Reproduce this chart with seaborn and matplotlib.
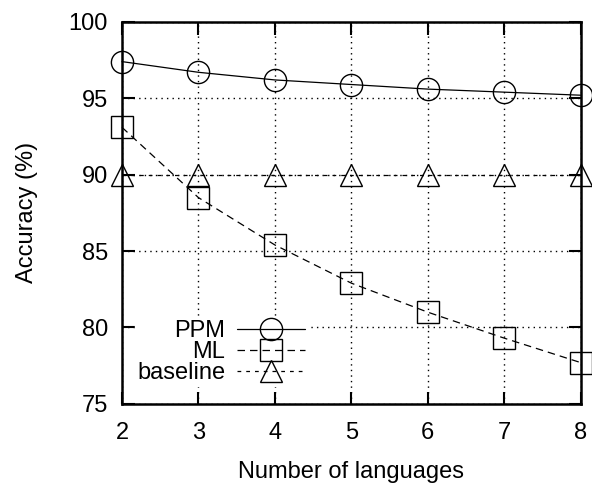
import matplotlib
matplotlib.use("Agg")
import matplotlib.pyplot as plt
import seaborn as sns
import pandas as pd

languages = [2, 3, 4, 5, 6, 7, 8]
ppm = [97.4, 96.7, 96.2, 95.9, 95.6, 95.4, 95.2]
ml = [93.1, 88.5, 85.4, 82.9, 81.0, 79.3, 77.7]
baseline = [90.0, 90.0, 90.0, 90.0, 90.0, 90.0, 90.0]
series_names = ["PPM", "ML", "baseline"]
x_ticks = [2, 3, 4, 5, 6, 7, 8]
y_ticks = [75, 80, 85, 90, 95, 100]

sns.set_style("ticks")
plt.rcParams['font.family'] = ['Liberation Sans', 'DejaVu Sans']
plt.rcParams['text.color'] = 'black'
plt.rcParams['axes.labelcolor'] = 'black'
plt.rcParams['xtick.color'] = 'black'
plt.rcParams['ytick.color'] = 'black'
plt.rcParams['axes.edgecolor'] = 'black'

df = pd.DataFrame({
    "n": languages * 3,
    "acc": ppm + ml + baseline,
    "method": [series_names[0]] * 7 + [series_names[1]] * 7 + [series_names[2]] * 7,
})

fig = plt.figure(figsize=(5.92, 4.86), dpi=100)
ax = fig.add_axes([0.206, 0.169, 0.775, 0.786])

ax.grid(True, linestyle=(0, (1, 3)), color="black", linewidth=1.0)
ax.set_axisbelow(True)

styles = {"PPM": ("-", "o"), "ML": ((0, (6, 4)), "s"), "baseline": ((0, (3, 4)), "^")}
for name in series_names:
    sub = df[df["method"] == name]
    ls, mk = styles[name]
    sns.lineplot(data=sub, x="n", y="acc", ax=ax, color="black", linewidth=0.9,
                 linestyle=ls, marker=mk, markersize=16, markerfacecolor="none",
                 markeredgecolor="black", markeredgewidth=1.0, label=name,
                 clip_on=False, zorder=3)

ax.set_xlim(2, 8)
ax.set_ylim(75, 100)
ax.set_xticks(x_ticks)
ax.set_yticks(y_ticks)
ax.tick_params(direction="in", length=9, width=1.5, top=True, right=True,
               labelsize=17, colors="black")
ax.tick_params(axis="x", pad=13)
ax.tick_params(axis="y", pad=10)
for s in ax.spines.values():
    s.set_linewidth(1.8)
    s.set_color("black")
ax.set_xlabel("Number of languages", fontsize=17, labelpad=12, color="black")
ax.set_ylabel("Accuracy (%)", fontsize=17, labelpad=22, color="black")

leg = ax.legend(loc="center right", bbox_to_anchor=(0.405, 0.135), markerfirst=False,
                frameon=True, fontsize=17, handlelength=2.9, labelspacing=-0.05,
                borderpad=0.1, handletextpad=0.5, borderaxespad=0)
leg.get_frame().set_facecolor("white")
leg.get_frame().set_edgecolor("white")
leg.get_frame().set_alpha(1)
for t in leg.get_texts():
    t.set_color("black")

fig.savefig("out.png", dpi=100)
